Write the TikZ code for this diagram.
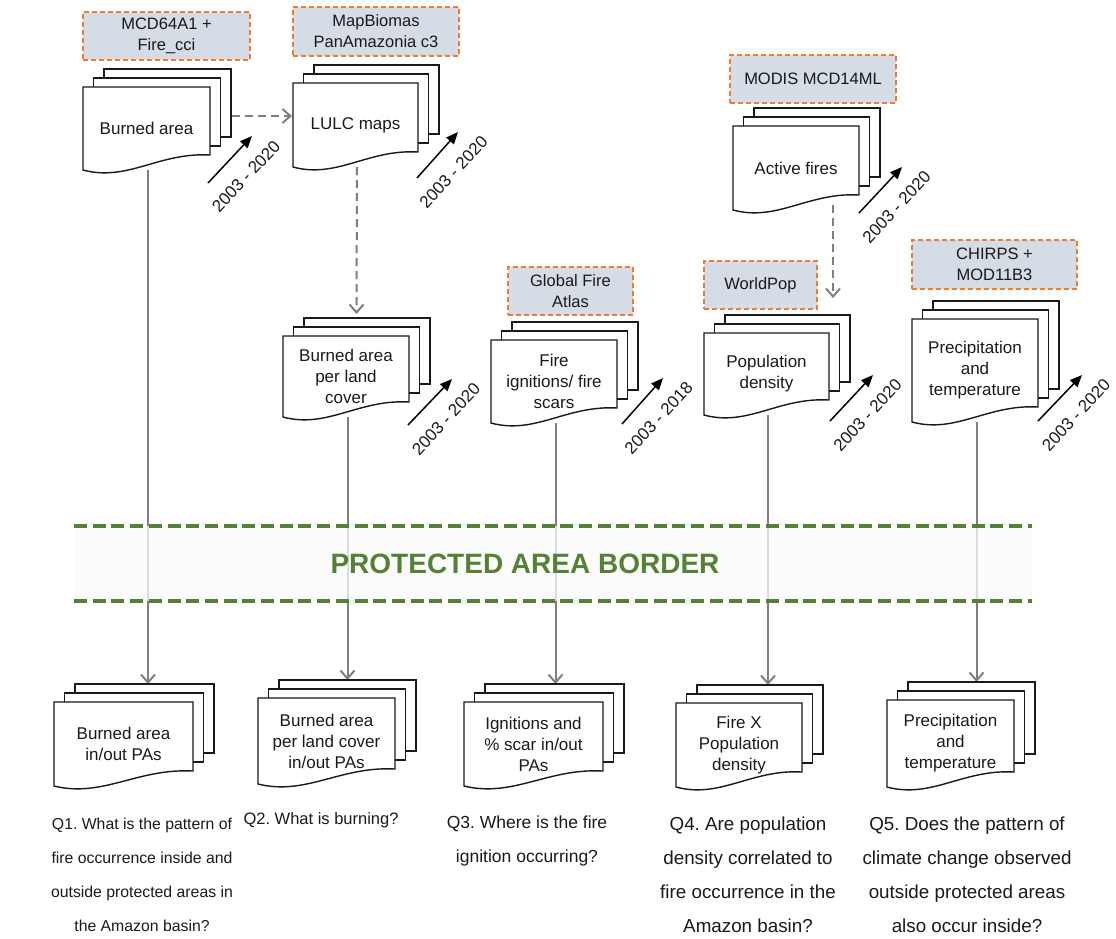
\documentclass[tikz,border=0pt]{standalone}
\usepackage{fontspec}
\setmainfont{Liberation Sans}
\frenchspacing
\usetikzlibrary{arrows.meta,calc}
\definecolor{gline}{HTML}{7F7F7F}
\definecolor{pagreen}{HTML}{548235}
\definecolor{srcorange}{HTML}{ED7D31}
\definecolor{srcfill}{HTML}{D6DCE5}
\definecolor{txt}{HTML}{1A1A1A}
\pgfdeclarelayer{bg}
\pgfsetlayers{bg,main}
\tikzset{
  docline/.style={draw=black!90, line width=1.4pt, fill=white, line join=miter},
  doctext/.style={align=center, font=\fontsize{17}{21}\selectfont, text=txt, inner sep=0pt},
  src/.style={draw=srcorange, fill=srcfill, dash pattern=on 5pt off 3pt, line width=1.5pt, align=center, font=\fontsize{16.5}{21}\selectfont, text=txt, inner sep=0pt},
  flow/.style={draw=gline, line width=2pt, -{Straight Barb[length=8pt,width=14pt,line width=2pt]}},
  dflow/.style={flow, dash pattern=on 8pt off 5pt},
  datearrow/.style={draw=black, line width=1.5pt, -{Triangle[length=12pt,width=10pt]}},
  datelabel/.style={rotate=47, font=\fontsize{17}{20}\selectfont, text=txt, inner sep=0pt},
  question/.style={align=center, text=txt, inner sep=0pt},
  border/.style={draw=pagreen, line width=4pt, dash pattern=on 13pt off 5.7pt},
}
% #1 name, #2 x0, #3 top, #4 x1, #5 bottom-left y, #6 text
\newcommand{\docstack}[6]{%
  \pgfmathsetmacro{\dyr}{#5-15}%
  \pgfmathsetmacro{\dw}{#4-#2}%
  \foreach \i in {2,1}{%
    \path[docline] ({#2+\i*10.5},{#3-\i*9}) rectangle ({#4+\i*10.5},{\dyr-\i*9});
  }%
  \path[docline] (#2,#3) -- (#4,#3) -- (#4,\dyr) .. controls ({#2+0.6*\dw},{\dyr-3}) and ({#2+0.35*\dw},{#5+12}) .. (#2,#5) -- cycle;
  \node[doctext] (#1) at ({(#2+#4)/2},{(#3+#5)/2}) {#6};
  \coordinate (#1-s) at ({(#2+#4)/2+1.5},#5);
  \coordinate (#1-n) at ({(#2+#4)/2+10.5},{#3-18});
}
\begin{document}
\begin{tikzpicture}[x=1pt,y=-1pt]
\begin{pgfonlayer}{bg}
  \fill[white] (0,0) rectangle (1116,938);
\end{pgfonlayer}
\useasboundingbox (0,0) rectangle (1116,938);

% source boxes
\node[src, minimum width=167pt, minimum height=48pt] (sA) at (166.5,36) {MCD64A1 +\\Fire\_cci};
\node[src, minimum width=166pt, minimum height=49pt] (sB) at (376,31.5) {MapBiomas\\PanAmazonia c3};
\node[src, minimum width=166pt, minimum height=48pt] (sC) at (813,79) {MODIS MCD14ML};
\node[src, minimum width=125pt, minimum height=48pt] (sD) at (570.5,291) {Global Fire\\Atlas};
\node[src, minimum width=113pt, minimum height=48pt] (sE) at (760.5,285) {WorldPop};
\node[src, minimum width=165pt, minimum height=49pt] (sF) at (994.5,264.5) {CHIRPS +\\MOD11B3};

% documents (top)
\docstack{A}{83}{87}{210}{170}{Burned area}
\docstack{B}{293}{83}{418}{167}{LULC maps}
\docstack{C}{733}{126}{859}{210}{Active fires}
\docstack{D}{283}{336}{409}{417}{Burned area\\per land\\cover}
\docstack{E}{491}{340}{617}{423}{Fire\\ignitions/ fire\\scars}
\docstack{F}{704}{333}{829}{415}{Population\\density}
\docstack{G}{912}{319}{1038}{422}{Precipitation\\and\\temperature}
% documents (bottom)
\docstack{H}{54}{702}{193}{786}{Burned area\\in/out PAs}
\docstack{I}{258}{698}{395}{784}{Burned area\\per land cover\\in/out PAs}
\docstack{J}{464}{702}{603}{786}{Ignitions and\\\% scar in/out\\PAs}
\docstack{K}{676}{703}{802}{787}{Fire X\\Population\\density}
\docstack{L}{887}{700}{1014}{787}{Precipitation\\and\\temperature}

% extra connector ends
\coordinate (A-out) at (232,116);
\coordinate (B-in) at (292,116);
\coordinate (C-out) at (833,205);
\coordinate (F-in) at (833,298);
\coordinate (D-in) at (356.5,314);

\begin{pgfonlayer}{bg}
  \draw[flow] (A-s) -- (A-s |- H-n);
  \draw[flow] (D-s) -- (D-s |- I-n);
  \draw[flow] (E-s) -- (E-s |- J-n);
  \draw[flow] (F-s) -- (F-s |- K-n);
  \draw[flow] (G-s) -- (G-s |- L-n);
  \draw[dflow] (A-out) -- (B-in);
  \draw[dflow] (B-s) -- (D-in);
  \draw[dflow] (C-out) -- (F-in);
  % protected area band
  \fill[fill=gray!2, fill opacity=0.75] (74,526) rectangle (1032,601);
  \draw[border] (74,526) -- (1032,526);
  \draw[border] (74,601) -- (1032,601);
\end{pgfonlayer}
\node[font=\fontsize{28}{32}\selectfont\bfseries, text=pagreen] (title) at (525,564) {PROTECTED AREA BORDER};

% date arrows
\coordinate (dA1) at (208,183); \coordinate (dA2) at (252,136);
\coordinate (dB1) at (417,178); \coordinate (dB2) at (458,132);
\coordinate (dC1) at (859,213); \coordinate (dC2) at (902,167);
\coordinate (dD1) at (408,425); \coordinate (dD2) at (452,379);
\coordinate (dE1) at (622,424); \coordinate (dE2) at (663,378);
\coordinate (dF1) at (830,421); \coordinate (dF2) at (873,375);
\coordinate (dG1) at (1038,421); \coordinate (dG2) at (1082,375);
\foreach \n/\t in {A/2003 - 2020, B/2003 - 2020, C/2003 - 2020, D/2003 - 2020, E/2003 - 2018, F/2003 - 2020, G/2003 - 2020}{
  \draw[datearrow] (d\n1) -- (d\n2);
  \node[datelabel] (l\n) at ($(d\n1)!0.5!(d\n2)+(16,17)$) {\t};
}

% questions
\node[question, font=\fontsize{15.8}{34}\selectfont] (q1) at (142,875) {Q1. What is the pattern of\\fire occurrence inside and\\outside protected areas in\\the Amazon basin?};
\node[question, font=\fontsize{16.5}{34}\selectfont] (q2) at (321,820) {Q2. What is burning?};
\node[question, font=\fontsize{17.5}{34}\selectfont] (q3) at (527,841) {Q3. Where is the fire\\ignition occurring?};
\node[question, font=\fontsize{18.8}{34}\selectfont] (q4) at (748,875) {Q4. Are population\\density correlated to\\fire occurrence in the\\Amazon basin?};
\node[question, font=\fontsize{18.8}{34}\selectfont] (q5) at (967,875) {Q5. Does the pattern of\\climate change observed\\outside protected areas\\also occur inside?};
\end{tikzpicture}
\end{document}
